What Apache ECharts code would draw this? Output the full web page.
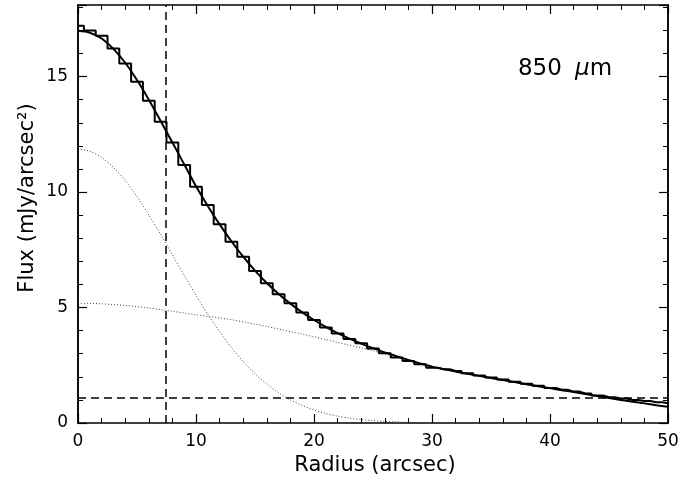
<!DOCTYPE html>
<html>
<head>
<meta charset="utf-8">
<script src="https://cdn.jsdelivr.net/npm/echarts@6/dist/echarts.min.js"></script>
<style>
  html, body { margin: 0; padding: 0; background: #fff; }
  #chart { width: 694px; height: 480px; }
</style>
</head>
<body>
<div id="chart"></div>
<script>
const radius = [0, 1, 2, 3, 4, 5, 6, 7, 8, 9, 10, 11, 12, 13, 14, 15, 16, 17, 18, 19, 20,
  21, 22, 23, 24, 25, 26, 27, 28, 29, 30, 31, 32, 33, 34, 35, 36, 37, 38, 39, 40,
  41, 42, 43, 44, 45, 46, 47, 48, 49, 50]

// observed profile, 1 arcsec bins
const fluxObserved = [17.2, 17.0, 16.77, 16.22, 15.57, 14.78, 13.95, 13.04, 12.15, 11.17, 10.23,
  9.44, 8.61, 7.85, 7.2, 6.58, 6.05, 5.58, 5.18, 4.78, 4.46,
  4.14, 3.88, 3.64, 3.45, 3.23, 3.02, 2.84, 2.68, 2.54, 2.39,
  2.33, 2.25, 2.15, 2.06, 1.97, 1.88, 1.79, 1.7, 1.61, 1.52,
  1.44, 1.36, 1.28, 1.19, 1.12, 1.06, 1.0, 0.95, 0.9, 0.86]

// total model
const fluxModel = [16.98, 16.9, 16.65, 16.2, 15.6, 14.85, 14.0, 13.08, 12.15, 11.2, 10.25,
  9.4, 8.6, 7.87, 7.2, 6.6, 6.06, 5.59, 5.17, 4.79, 4.46,
  4.16, 3.89, 3.65, 3.44, 3.24, 3.06, 2.89, 2.73, 2.58, 2.44,
  2.33, 2.23, 2.13, 2.04, 1.95, 1.86, 1.77, 1.68, 1.59, 1.51,
  1.42, 1.34, 1.25, 1.17, 1.08, 1.0, 0.92, 0.85, 0.77, 0.7]

// compact (beam) component, r = 0..30
const fluxCompact = [11.86, 11.77, 11.5, 11.07, 10.5, 9.8, 9.01, 8.17, 7.28, 6.4, 5.53,
  4.71, 3.96, 3.27, 2.66, 2.13, 1.69, 1.31, 1.0, 0.76, 0.56,
  0.41, 0.3, 0.21, 0.15, 0.1, 0.07, 0.05, 0.03, 0.02, 0.01]

// extended component
const fluxExtended = [5.19, 5.18, 5.16, 5.13, 5.09, 5.04, 4.98, 4.91, 4.84, 4.76, 4.68,
  4.62, 4.55, 4.47, 4.38, 4.28, 4.18, 4.07, 3.96, 3.85, 3.73,
  3.61, 3.49, 3.37, 3.25, 3.13, 2.99, 2.86, 2.73, 2.58, 2.44,
  2.33, 2.23, 2.13, 2.04, 1.95, 1.86, 1.77, 1.68, 1.59, 1.51,
  1.42, 1.34, 1.25, 1.17, 1.08, 1.0, 0.92, 0.85, 0.77, 0.7]

const beamRadius = 7.4
const backgroundLevel = 1.08

const xTicks = [0, 10, 20, 30, 40, 50]
const yTicks = [0, 5, 10, 15]

const pairs = (ys) => ys.map((v, i) => [radius[i], v])

const FONT = 'DejaVu Sans'
const INK = '#000'

const chart = echarts.init(document.getElementById('chart'), null, { renderer: 'canvas' })

function xAxisDef(pos, showLabels) {
  return {
    type: 'value', position: pos, min: 0, max: 50, interval: 10,
    axisLine: { show: true, onZero: false, lineStyle: { color: INK, width: 1.5 } },
    axisTick: { show: true, inside: true, length: 9, lineStyle: { color: INK, width: 1.2 } },
    minorTick: { show: true, splitNumber: 5, length: 5, lineStyle: { color: INK, width: 1 } },
    axisLabel: {
      show: showLabels, margin: 10, color: INK, fontFamily: FONT, fontSize: 17,
      formatter: (v) => xTicks.includes(v) ? String(v) : ''
    },
    splitLine: { show: false }
  }
}

function yAxisDef(pos, step, len, showLabels) {
  return {
    type: 'value', position: pos, min: 0, max: 18.1, interval: step,
    axisLine: { show: true, onZero: false, lineStyle: { color: INK, width: 1.5 } },
    axisTick: { show: true, inside: true, length: len, lineStyle: { color: INK, width: step === 5 ? 1.2 : 1 } },
    axisLabel: {
      show: showLabels, margin: 10, color: INK, fontFamily: FONT, fontSize: 17,
      formatter: (v) => yTicks.includes(v) ? String(v) : ''
    },
    splitLine: { show: false }
  }
}

const option = {
  animation: false,
  backgroundColor: '#fff',
  grid: { left: 78, right: 26, top: 5, bottom: 57, containLabel: false },
  xAxis: [xAxisDef('bottom', true), xAxisDef('top', false)],
  yAxis: [
    yAxisDef('left', 5, 9, true),
    yAxisDef('left', 1, 5, false),
    yAxisDef('right', 5, 9, false),
    yAxisDef('right', 1, 5, false)
  ],
  graphic: [
    {
      type: 'text', x: 375, y: 466,
      style: {
        text: 'Radius (arcsec)', fill: INK, font: '21px "DejaVu Sans"',
        align: 'center', verticalAlign: 'middle'
      }
    },
    {
      type: 'text', x: 28, y: 198, rotation: Math.PI / 2,
      style: {
        text: 'Flux (mJy/arcsec²)', fill: INK, font: '21px "DejaVu Sans"',
        align: 'center', verticalAlign: 'middle'
      }
    },
    {
      type: 'text', x: 565, y: 69,
      style: {
        text: '{n|850 }{mu|μ}{n|m}',
        align: 'center', verticalAlign: 'middle',
        rich: {
          n: { fontFamily: FONT, fontSize: 23, color: INK },
          mu: { fontFamily: FONT, fontSize: 23, fontStyle: 'italic', color: INK, padding: [0, 0, 0, 6] }
        }
      }
    }
  ],
  series: [
    {
      name: 'compact', type: 'line', data: pairs(fluxCompact), smooth: 0.3,
      showSymbol: false, silent: true,
      lineStyle: { color: '#444', width: 1, type: [1, 2] }
    },
    {
      name: 'extended', type: 'line', data: pairs(fluxExtended), smooth: 0.3,
      showSymbol: false, silent: true,
      lineStyle: { color: '#444', width: 1, type: [1, 2] }
    },
    {
      name: 'observed', type: 'line', data: pairs(fluxObserved), step: 'middle',
      showSymbol: false, silent: true,
      lineStyle: { color: INK, width: 2 }
    },
    {
      name: 'model', type: 'line', data: pairs(fluxModel), smooth: 0.3,
      showSymbol: false, silent: true,
      lineStyle: { color: INK, width: 2 },
      markLine: {
        silent: true, symbol: 'none', animation: false,
        label: { show: false },
        lineStyle: { color: INK, width: 1.5, type: [8, 5] },
        data: [{ xAxis: beamRadius }, { yAxis: backgroundLevel }]
      }
    }
  ]
}

chart.setOption(option)
window.addEventListener('resize', () => chart.resize())
</script>
</body>
</html>
